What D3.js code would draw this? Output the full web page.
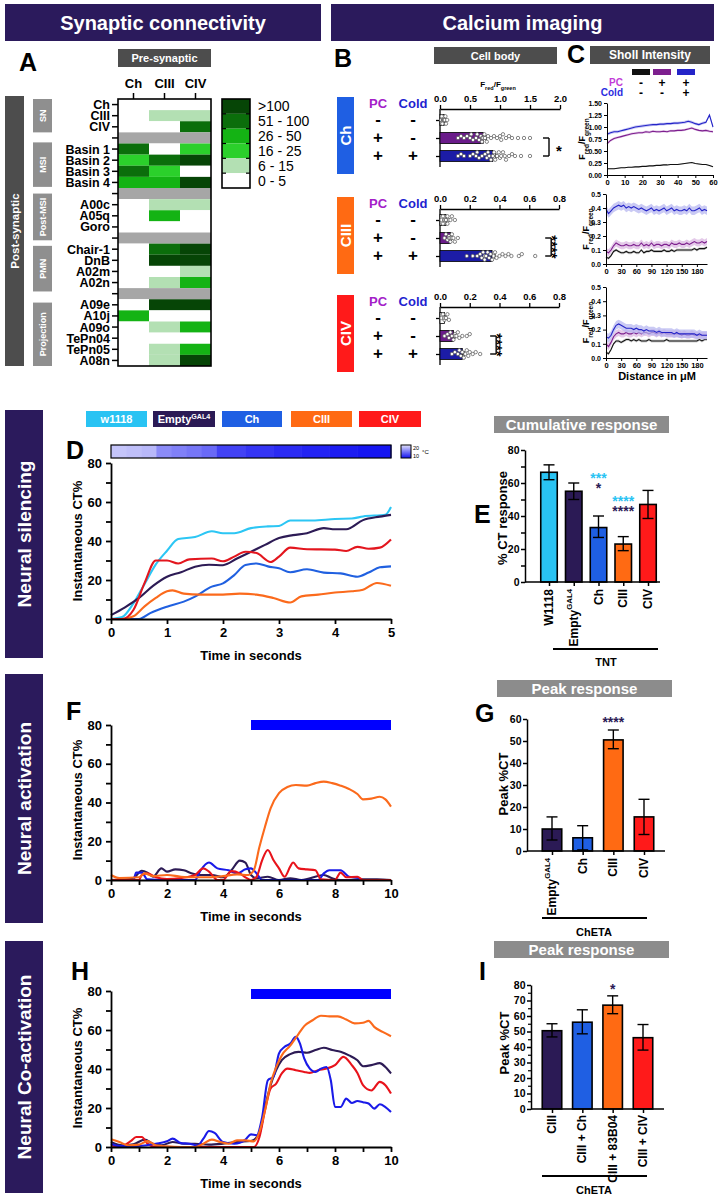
<!DOCTYPE html>
<html><head><meta charset="utf-8">
<script src="https://cdn.jsdelivr.net/npm/d3@7"></script>
<style>
body{margin:0;background:#fff;}
svg{display:block;}
text{font-family:Arial,"Liberation Sans",Helvetica,sans-serif;}
</style></head><body>
<svg id="fig" width="720" height="1200"></svg>
<script>
// ======================= DATA =======================
// ---- Panel A: connectivity heatmap ----
const heatCols = ["Ch","CIII","CIV"];
const heatRows = ["Ch","CIII","CIV","","Basin 1","Basin 2","Basin 3","Basin 4","","A00c","A05q","Goro","","Chair-1","DnB","A02m","A02n","","A09e","A10j","A09o","TePn04","TePn05","A08n"];
// bin index: 0 = "0 - 5", 1 = "6 - 15", 2 = "16 - 25", 3 = "26 - 50", 4 = "51 - 100", 5 = ">100"; null = separator row
const heatVals = [[0,0,0],[0,1,1],[0,0,4],null,[4,0,2],[2,4,5],[4,2,0],[3,3,5],null,[0,1,1],[0,3,0],[0,0,0],null,[0,4,5],[0,5,5],[0,0,1],[0,1,3],null,[0,5,5],[3,0,0],[0,1,3],[0,0,0],[0,1,3],[0,1,5]];
const heatBinLabels = [">100","51 - 100","26 - 50","16 - 25","6 - 15","0 - 5"];
const heatBinColors = ["#064506","#0b6e0b","#14b314","#2bd02b","#b3e0b3","#ffffff"];
const heatGroupNames = ["SN","MSI","Post-MSI","PMN","Projection"];
const heatGroupSpan = [[0,3],[3.9,7.9],[8.5,12.7],[13.2,17.3],[18.3,24]];

// ---- Panel B: cell body Fred/Fgreen ----
const bGroups = ["Ch","CIII","CIV"];
const bPC = ["-","+","+"];
const bCold = ["-","-","+"];
const bMaxes = [2.0, 0.8, 0.8];
const bTicksCh = [0,0.5,1.0,1.5,2.0];
const bTicksC34 = [0,0.2,0.4,0.6,0.8];
const bMeansCh = [0.07,0.72,0.88];
const bMeansCIII = [0.04,0.07,0.35];
const bMeansCIV = [0.03,0.09,0.15];
const bSemCh = [0.01,0.05,0.05];
const bSemCIII = [0.005,0.006,0.02];
const bSemCIV = [0.004,0.01,0.012];
const bDotsCh = [
 [0.02,0.03,0.04,0.05,0.05,0.06,0.07,0.07,0.08,0.09,0.1,0.12],
 [0.3,0.35,0.4,0.45,0.5,0.52,0.55,0.6,0.62,0.65,0.68,0.7,0.7,0.72,0.74,0.75,0.78,0.8,0.85,0.9,0.95,1.0,1.02,1.05,1.1,1.15,1.2,1.3,1.4,1.5],
 [0.3,0.35,0.4,0.5,0.55,0.6,0.62,0.65,0.7,0.75,0.78,0.8,0.82,0.85,0.88,0.9,0.92,0.95,0.98,1.0,1.02,1.05,1.08,1.1,1.15,1.2,1.25,1.35,1.5]];
const bDotsCIII = [
 [0.01,0.02,0.02,0.03,0.03,0.04,0.04,0.05,0.05,0.06,0.07,0.08,0.1],
 [0.03,0.04,0.05,0.06,0.06,0.07,0.07,0.08,0.08,0.09,0.1,0.12],
 [0.18,0.22,0.25,0.27,0.28,0.29,0.3,0.3,0.31,0.32,0.33,0.34,0.35,0.36,0.37,0.38,0.4,0.42,0.44,0.46,0.48,0.53,0.55,0.64]];
const bDotsCIV = [
 [0.01,0.02,0.03,0.03,0.04,0.05,0.06],
 [0.03,0.05,0.06,0.07,0.08,0.09,0.1,0.1,0.11,0.12,0.13,0.15,0.18,0.2],
 [0.08,0.1,0.12,0.13,0.14,0.15,0.16,0.17,0.18,0.19,0.2,0.22,0.24,0.27]];
const bSig = ["*","****","****"];

// ---- Panel C: Sholl intensity ----
const shollPC = ["-","+","+"];
const shollCold = ["-","-","+"];
const shollChX = [0,2,4,6,8,10,12,14,16,18,20,22,24,26,28,30,32,34,36,38,40,42,44,46,48,50,52,54,56,58,60];
const shollChBlack = [0.13,0.13,0.13,0.14,0.15,0.15,0.16,0.16,0.17,0.17,0.18,0.18,0.19,0.19,0.2,0.2,0.21,0.21,0.22,0.22,0.22,0.23,0.24,0.25,0.26,0.24,0.23,0.22,0.22,0.2,0.17];
const shollChPurple = [0.65,0.72,0.76,0.78,0.8,0.82,0.84,0.86,0.87,0.88,0.88,0.9,0.89,0.91,0.9,0.9,0.91,0.9,0.92,0.92,0.93,0.93,0.94,0.96,0.98,0.95,0.93,0.92,0.93,0.91,0.9];
const shollChBlue = [0.85,0.88,0.9,0.9,0.92,0.94,0.96,0.98,1.0,1.01,1.02,1.03,1.04,1.05,1.05,1.06,1.06,1.07,1.07,1.08,1.08,1.09,1.1,1.12,1.1,1.07,1.05,1.08,1.1,1.25,1.0];
const shollX200 = d3.range(0,201,5);
const shollCIIIBlue = [0.39,0.36,0.38,0.4,0.41,0.42,0.41,0.42,0.4,0.41,0.4,0.41,0.4,0.39,0.4,0.39,0.38,0.39,0.4,0.38,0.39,0.38,0.39,0.4,0.38,0.39,0.4,0.38,0.39,0.38,0.38,0.39,0.38,0.4,0.38,0.38,0.39,0.4,0.38,0.39,0.38];
const shollCIIIPurple = [0.09,0.08,0.1,0.13,0.15,0.14,0.13,0.13,0.14,0.13,0.13,0.14,0.13,0.13,0.15,0.13,0.14,0.13,0.15,0.13,0.14,0.14,0.13,0.14,0.14,0.13,0.15,0.14,0.14,0.15,0.14,0.14,0.15,0.14,0.15,0.16,0.15,0.15,0.16,0.15,0.16];
const shollCIIIBlack = [0.05,0.04,0.06,0.09,0.1,0.09,0.08,0.08,0.09,0.08,0.08,0.09,0.08,0.08,0.1,0.08,0.09,0.09,0.1,0.09,0.09,0.09,0.09,0.1,0.09,0.09,0.1,0.09,0.1,0.1,0.1,0.1,0.1,0.1,0.1,0.11,0.1,0.11,0.11,0.11,0.12];
const shollCIVBlue = [0.15,0.14,0.16,0.2,0.23,0.24,0.23,0.22,0.21,0.21,0.21,0.2,0.21,0.2,0.2,0.19,0.2,0.19,0.19,0.19,0.18,0.19,0.18,0.18,0.18,0.18,0.18,0.17,0.18,0.17,0.17,0.17,0.17,0.17,0.17,0.17,0.16,0.17,0.16,0.16,0.16];
const shollCIVPurple = [0.1,0.08,0.11,0.15,0.17,0.18,0.17,0.17,0.18,0.17,0.17,0.18,0.17,0.18,0.17,0.18,0.18,0.17,0.18,0.18,0.17,0.18,0.17,0.18,0.17,0.17,0.17,0.17,0.17,0.17,0.16,0.17,0.16,0.16,0.17,0.16,0.16,0.16,0.16,0.16,0.16];
const shollCIVBlack = [0.04,0.03,0.06,0.1,0.12,0.12,0.11,0.12,0.13,0.13,0.12,0.13,0.12,0.13,0.12,0.12,0.12,0.13,0.12,0.12,0.12,0.12,0.12,0.12,0.13,0.12,0.12,0.12,0.12,0.12,0.12,0.12,0.12,0.12,0.12,0.12,0.12,0.13,0.12,0.13,0.13];
const shollSem = [0.01,0.025,0.03];

// ---- Panel D: neural silencing ----
const genotypes = ["w1118","Empty","Ch","CIII","CIV"];
const tempTimes = [0,0.27,0.54,0.81,1.08,1.35,1.62,1.89,2.4,2.9,3.4,3.9,4.4,5];
const tempValues = [18.6,18.3,18.0,15.8,15.3,14.8,14.2,12.3,11.7,11.2,10.8,10.5,10.2];
const dW1118T = [0,0.2,0.4,0.6,0.8,1.0,1.2,1.5,1.8,2.0,2.2,2.5,2.8,3.0,3.2,3.6,4.0,4.3,4.5,4.9,5.0];
const dW1118V = [0,1,8,18,28,35,41,42,45,44,44,46.6,47.5,47.7,50.5,50.5,51.3,51.5,52.6,53.5,57.4];
const dEmptyT = [0,0.25,0.5,0.75,1.0,1.25,1.5,1.75,2.0,2.25,2.5,2.75,3.0,3.25,3.5,3.8,4.0,4.2,4.5,4.8,5.0];
const dEmptyV = [2,6,10.8,17,21.7,24,26.8,27.8,27.6,31,34.5,38,41.5,43,44,46.6,46,46,50.7,52.5,53.4];
const dChT = [0,0.5,0.7,1.0,1.3,1.5,1.8,2.0,2.2,2.4,2.6,2.8,3.0,3.2,3.5,3.8,4.1,4.4,4.6,4.8,5.0];
const dChV = [0,0,3,6.3,8.9,11.5,16.6,18.3,22.5,27.7,28.5,27,26,24,25.5,23.8,23.4,21.7,23.8,26.5,27];
const dCIIIT = [0,0.2,0.4,0.6,0.8,1.0,1.1,1.3,1.6,2.0,2.3,2.6,2.9,3.2,3.4,3.7,4.0,4.3,4.5,4.75,5.0];
const dCIIIV = [0,0,1.4,6.5,10.8,14.2,14.7,13,12.5,12.5,13,12.5,10.8,8.5,11.6,12.5,13.6,14.2,15,18.5,17];
const dCIVT = [0,0.2,0.4,0.6,0.8,1.0,1.2,1.4,1.8,2.0,2.2,2.4,2.6,2.85,3.0,3.2,3.5,4.0,4.2,4.4,4.6,4.8,5.0];
const dCIVV = [0,0,4.6,18.5,30,30,28.5,30.6,31,29.6,32,34.5,33.8,29.2,32,36.6,35.8,35.6,34.9,37,36,36.6,40.8];

// ---- Panel E: cumulative response ----
const eCats = ["W1118","Empty","Ch","CIII","CIV"];
const eMeans = [66.5,55,33,23,47];
const eLow = [62,50,27,19,38.5];
const eHigh = [71,60,40,27.5,55.5];

// ---- Panel F: neural activation ----
const fCIIIT = [0,0.3,1.0,1.2,1.5,2.0,2.5,3.0,3.5,4.0,4.5,4.9,5.1,5.3,5.5,5.7,6.0,6.3,6.6,7.0,7.3,7.6,7.9,8.2,8.5,8.8,9.0,9.3,9.6,9.8,10];
const fCIIIV = [2.6,1,1.4,3.4,2,2.6,1.7,1.4,1.4,2,2.9,2.6,5,17,27.5,37,44.8,48,49,48.7,50,50.8,50,48.7,47,44.4,41.6,42,43,41.6,37.9];
const fCIVT = [0,1.0,1.1,1.3,1.6,2.0,2.5,3.0,3.3,3.5,3.8,4.0,4.3,4.6,4.8,5.0,5.2,5.4,5.6,5.8,6.0,6.2,6.4,6.5,6.7,7.0,7.3,7.5,8.0,8.2,8.4,8.8,9.0,10];
const fCIVV = [0,0,2.6,3.4,1.4,0.5,1.0,2.6,6,4.3,0,0,4.6,3.4,1.4,0,1.7,10.3,15.5,10.3,6,1.7,6.9,9,6,5.5,5,0.3,0,3.8,1.4,1.7,0,0];
const fChT = [0,0.8,0.9,1.1,1.3,2.0,3.0,3.2,3.5,3.8,4.2,4.5,4.8,5.0,5.2,5.4,7.4,7.6,7.8,8.2,8.5,8.8,9.0,10];
const fChV = [0,0,3.8,3.8,0.3,0,0,5,9,6,5,3.4,5.5,6,3.4,0,0,3.4,5,5,1.7,1.2,0,0];
const fEmptyT = [0,0.6,0.8,1.1,1.3,1.5,1.8,2.0,2.3,2.6,2.9,3.2,3.6,4.0,4.3,4.6,4.8,5.0,5.2,5.6,6.0,6.4,6.8,7.6,7.9,8.2,9.0,9.5,10];
const fEmptyV = [0,0.3,0.9,4.8,3.8,1.7,6,4.3,5.5,5,3.4,2.6,2.6,1.4,5,10,9,2.6,0.9,1.7,0,0.9,0,2.6,0.9,0,0.3,0.3,0];

// ---- Panel G: peak response ----
const gCats = ["Empty","Ch","CIII","CIV"];
const gMeans = [10,6,50.5,15.5];
const gLow = [5,0.5,46.5,7.5];
const gHigh = [15.5,11.5,55,23.5];

// ---- Panel H: neural co-activation ----
const hCIIIT = [0,0.3,0.6,1.0,1.3,1.6,2.0,2.5,3.0,3.3,3.6,3.9,4.2,4.5,4.8,5.1,5.3,5.5,5.7,5.9,6.1,6.4,6.7,6.9,7.2,7.5,7.8,8.1,8.4,8.7,9.0,9.2,9.4,9.7,10];
const hCIIIV = [4,2.6,0.9,1.2,3,0.9,0.3,0,0,1.7,3.8,2.6,1.7,3.4,3.4,2.9,7.7,18.8,32.5,41,47,52,58,62,65,67.3,67,67,65.4,63.4,63.7,64.7,61.6,59,56.8];
const hEmptyT = [0,0.4,0.8,1.2,1.5,1.8,2.2,2.6,3.0,3.5,4.0,4.5,5.0,5.3,5.5,5.7,5.9,6.1,6.4,6.7,7.0,7.3,7.6,7.9,8.2,8.5,8.8,9.0,9.3,9.6,9.8,10];
const hEmptyV = [2.6,0.9,1.4,3.8,1.7,0.9,2.6,1.7,1.7,1.2,1.7,2.6,3.1,6.8,20.5,31.7,39.4,44.5,47.6,48.8,48.3,49.7,50.9,49.7,48.8,47,44.5,41.4,42,43,41,37.7];
const hCIVT = [0,0.3,0.7,0.9,1.1,1.3,1.6,5.1,5.3,5.5,5.7,5.9,6.1,6.3,6.6,6.9,7.1,7.4,7.7,8.0,8.3,8.6,8.8,9.0,9.3,9.6,9.8,10];
const hCIVV = [0.9,0,3,5.1,5.1,1.7,0,0,5,18.8,30,32.5,37.7,40.2,39.4,38.5,38,39.4,40.2,42,46.2,42,38,31.7,29,33.4,31.7,27.4];
const hChT = [0,0.3,0.8,1.2,1.6,2.0,2.2,2.5,2.8,3.1,3.3,3.5,3.7,4.0,4.4,4.8,5.0,5.2,5.4,5.6,5.8,6.0,6.2,6.4,6.6,6.75,6.9,7.1,7.3,7.5,7.7,7.85,8.0,8.2,8.4,8.6,8.8,9.0,9.2,9.4,9.6,9.8,10];
const hChV = [1.7,0.5,0.5,0.8,1.7,2.9,4.3,2,1.7,0.8,4.3,8.2,7.2,2.6,1.7,3.8,6.5,6,15.4,34.2,36,48,51.4,53,56.5,53,45.4,40.2,38.5,40.2,41,34.2,20.5,20.5,24.8,22.6,23.6,23,22.3,19.7,21.9,20.5,18];

// ---- Panel I: peak response co-activation ----
const iCats = ["CIII","CIII + Ch","CIII + 83B04","CIII + CIV"];
const iMeans = [50.5,56,67,46];
const iLow = [46.5,48.5,61.5,38];
const iHigh = [55,64,73,54.5];

// ======================= DRAWING =======================
const HDR = "#2b1a5c";
const COL = {w1118:"#29c3f3", Empty:"#2b1a55", Ch:"#1f5fe3", CIII:"#ff6a13", CIV:"#ff1a1a"};
const LINE_D = {w1118:"#2cc6f4", Empty:"#2d1b55", Ch:"#2060e0", CIII:"#fb6a1c", CIV:"#e3161e"};
const LINE_FH = {Empty:"#2d1b55", Ch:"#1a1ae8", CIII:"#fb6a1c", CIV:"#e8131b"};
const svg = d3.select("#fig");
const FONT = 'Arial,"Liberation Sans",Helvetica,sans-serif';

function txt(x,y,s,o={}) {
  const t = svg.append("text").text(s)
    .attr("font-size",o.size||12).attr("font-weight",o.weight||"bold")
    .attr("fill",o.fill||"#000").attr("text-anchor",o.anchor||"start");
  if (o.baseline) t.attr("dominant-baseline",o.baseline);
  if (o.rotate!==undefined) t.attr("transform",`translate(${x},${y}) rotate(${o.rotate})`);
  else t.attr("x",x).attr("y",y);
  return t;
}
function rect(x,y,w,h,fill,stroke,sw) {
  const r = svg.append("rect").attr("x",x).attr("y",y).attr("width",w).attr("height",h).attr("fill",fill);
  if (stroke) r.attr("stroke",stroke).attr("stroke-width",sw||1);
  return r;
}
function line(x1,y1,x2,y2,c,w) {
  return svg.append("line").attr("x1",x1).attr("y1",y1).attr("x2",x2).attr("y2",y2).attr("stroke",c||"#000").attr("stroke-width",w||1.5);
}
function labelBox(x,y,w,h,fill,s,size,rot) {
  rect(x,y,w,h,fill);
  return txt(x+w/2,y+h/2,s,{size,fill:"#fff",anchor:"middle",baseline:"central",rotate:rot?-90:undefined});
}
function drawAxis(axis,tx,ty,fs,sw) {
  const g = svg.append("g").attr("transform",`translate(${tx},${ty})`).call(axis);
  g.select(".domain").attr("stroke","#000").attr("stroke-width",sw||1.5);
  g.selectAll(".tick line").attr("stroke","#000").attr("stroke-width",sw||1.5);
  g.selectAll(".tick text").attr("font-family",FONT).attr("font-weight","bold").attr("font-size",fs).attr("fill","#000");
  return g;
}
function superText(x,y,base,sup,o) {
  const t = txt(x,y,"",o);
  t.append("tspan").text(base);
  t.append("tspan").text(sup).attr("baseline-shift","super").attr("font-size",(o.size||12)*0.65);
  return t;
}
function stackText(x,lines,o) {
  const t = svg.append("text").attr("font-size",o.size).attr("font-weight","bold").attr("text-anchor",o.anchor||"middle");
  lines.forEach(l=> t.append("tspan").attr("x",x).attr("y",l.y).attr("fill",l.fill||"#000").text(l.s));
  return t;
}

// ---------- Headers ----------
labelBox(5,4,316,37,HDR,"Synaptic connectivity",20);
labelBox(331,4,383,37,HDR,"Calcium imaging",20);

// ---------- Panel A ----------
txt(19,71,"A",{size:25});
labelBox(118,49,93,18,"#4d4d4d","Pre-synaptic",11);
const xA = d3.scaleBand().domain(heatCols).range([118,211]);
const yA = d3.scaleBand().domain(d3.range(heatRows.length)).range([99,366]);
const yRowA = d3.scaleLinear().domain([0,heatRows.length]).range([99,366]);
heatRows.forEach((r,i)=>{
  const vals = heatVals[i];
  if (vals===null) {
    rect(118,yA(i),93,yA.bandwidth(),"#a6a6a6");
  } else {
    vals.forEach((v,j)=> rect(xA(heatCols[j]),yA(i),xA.bandwidth(),yA.bandwidth(),heatBinColors[5-v]));
  }
});
rect(118,99,93,267,"none","#000",1.6);
drawAxis(d3.axisLeft(yA).tickSize(6).tickSizeOuter(0).tickFormat(""),118,0,13).select(".domain").remove();
stackText(110,heatRows.map((r,i)=>({s:r,y:yA(i)+yA.bandwidth()/2+4.5})).filter(d=>d.s),{size:12.5,anchor:"end"});
drawAxis(d3.axisTop(xA).tickSize(6).tickPadding(5).tickSizeOuter(0),0,99,13).select(".domain").remove();
// legend
const yL = d3.scaleBand().domain(heatBinLabels).range([99,188]);
heatBinLabels.forEach((l,i)=>{
  rect(222,yL(l),28,yL.bandwidth(),heatBinColors[i]);
  txt(258,yL(l)+yL.bandwidth()/2,l,{size:14,weight:"normal",baseline:"central"});
  if (i>0) { line(222,yL(l),226,yL(l),"#000",1.2); line(246,yL(l),250,yL(l),"#000",1.2); }
});
rect(222,99,28,89,"none","#000",1.6);
// group labels
labelBox(5,96,19,270,"#4d4d4d","Post-synaptic",11.5,true);
heatGroupNames.forEach((g,i)=>{
  const y0 = yRowA(heatGroupSpan[i][0]), y1 = yRowA(heatGroupSpan[i][1]);
  labelBox(33,y0,19,y1-y0,"#8f8f8f",g,9,true);
});

// ---------- Panel B ----------
txt(334,67,"B",{size:25});
labelBox(434,47,123,17,"#4d4d4d","Cell body",11);
{
  const t = txt(498,87,"",{size:8,anchor:"middle"});
  t.append("tspan").text("F");
  t.append("tspan").text("red").attr("baseline-shift","sub").attr("font-size",5.5);
  t.append("tspan").text("/F");
  t.append("tspan").text("green").attr("baseline-shift","sub").attr("font-size",5.5);
}
const bAxisY = [109,209,307];
const bMeansAll = [bMeansCh,bMeansCIII,bMeansCIV];
const bSemAll = [bSemCh,bSemCIII,bSemCIV];
const bDotsAll = [bDotsCh,bDotsCIII,bDotsCIV];
const bRowFill = ["#ffffff","#6a1b8a","#1c1ca6"];
function swarm(vals,xs,cy,r,maxOff) {
  const placed = [];
  const offs = [0];
  for (let k=1;k<=5;k++) offs.push(-k*r*1.1,k*r*1.1);
  return vals.slice().sort((a,b)=>a-b).map(v=>{
    const x = xs(v); let y = cy;
    for (const o of offs) {
      if (Math.abs(o)>maxOff) continue;
      if (placed.every(p=>(p.x-x)**2+(p.y-(cy+o))**2 >= (1.8*r)**2)) { y = cy+o; break; }
    }
    const p = {x,y}; placed.push(p); return p;
  });
}
bGroups.forEach((g,gi)=>{
  const ay = bAxisY[gi];
  labelBox(337,ay-12,17,77,COL[g],g,15,true);
  txt(378,ay-1,"PC",{size:13,fill:"#a320c8",anchor:"middle"});
  txt(413,ay-1,"Cold",{size:13,fill:"#1f1fd0",anchor:"middle"});
  const xB = d3.scaleLinear().domain([0,bMaxes[gi]]).range([440, gi===0?560:559]);
  drawAxis(d3.axisTop(xB).tickValues(gi===0?bTicksCh:bTicksC34).tickFormat(d3.format(".1f")).tickSize(4).tickSizeOuter(0),0,ay,9.5,1.3);
  const rowsY = [ay+11, ay+29, ay+47];
  const yB = d3.scaleOrdinal().domain([0,1,2]).range(rowsY);
  drawAxis(d3.axisLeft(yB).tickSize(4).tickFormat(""),440,0,9,1.3).select(".domain").remove();
  line(440,ay,440,ay+58,"#000",1.3);
  [0,1,2].forEach(ri=>{
    const cy = yB(ri);
    txt(378,cy+5,bPC[ri],{size:17,anchor:"middle"});
    txt(413,cy+5,bCold[ri],{size:17,anchor:"middle"});
    const m = bMeansAll[gi][ri];
    rect(440,cy-5.5,xB(m)-440,11,bRowFill[ri],"#000",0.8);
    const s = bSemAll[gi][ri];
    line(xB(m-s),cy,xB(m+s),cy,"#000",1);
    line(xB(m+s),cy-3,xB(m+s),cy+3,"#000",1);
    swarm(bDotsAll[gi][ri],xB,cy,1.7,5.5).forEach(p=>{
      svg.append("circle").attr("cx",p.x).attr("cy",p.y).attr("r",1.7).attr("fill","#fff").attr("stroke","#555").attr("stroke-width",0.7);
    });
  });
  const mx = d3.max(bDotsAll[gi][1].concat(bDotsAll[gi][2]));
  const bx = xB(mx)+(gi===0?19:16);
  line(bx,rowsY[1],bx,rowsY[2],"#000",1.4);
  line(bx-6,rowsY[1],bx,rowsY[1],"#000",1.4);
  line(bx-6,rowsY[2],bx,rowsY[2],"#000",1.4);
  const my = (rowsY[1]+rowsY[2])/2;
  if (bSig[gi].length===1) txt(bx+7,my+9,bSig[gi],{size:15});
  else txt(bx+7,my,bSig[gi],{size:15,anchor:"middle",rotate:90,baseline:"central"}).attr("dy","0.35em");
});

// ---------- Panel C ----------
txt(567,63,"C",{size:25});
labelBox(590,46,120,18,"#4d4d4d","Sholl Intensity",12);
const shollColors = ["#111111","#7d1f8e","#2424c8"];
const shollBand = ["#bbbbbb","#d9b3e0","#b3b3f0"];
const shollLegX = [641,662,686];
shollColors.forEach((c,i)=>{
  rect(shollLegX[i]-9,69,18,6,c);
  stackText(shollLegX[i],[{s:shollPC[i],y:87},{s:shollCold[i],y:97}],{size:12});
});
stackText(623,[{s:"PC",y:86,fill:"#c23cd8"},{s:"Cold",y:96,fill:"#2b2be0"}],{size:10,anchor:"end"});
function shollChart(xArr,series,xDom,xTicks,xRange,yDom,yTicks,yFmt,yRange,ylabX) {
  const xs = d3.scaleLinear().domain(xDom).range(xRange);
  const ys = d3.scaleLinear().domain(yDom).range(yRange);
  series.forEach((vals,si)=>{
    const sem = shollSem[si];
    const area = d3.area().x((d,i)=>xs(xArr[i])).y0((d)=>ys(d-sem)).y1(d=>ys(d+sem)).curve(d3.curveLinear);
    svg.append("path").attr("d",area(vals)).attr("fill",shollBand[si]).attr("opacity",0.7);
    const ln = d3.line().x((d,i)=>xs(xArr[i])).y(d=>ys(d));
    svg.append("path").attr("d",ln(vals)).attr("fill","none").attr("stroke",shollColors[si]).attr("stroke-width",1.1);
  });
  drawAxis(d3.axisLeft(ys).tickValues(yTicks).tickFormat(d3.format(yFmt)).tickSize(3).tickPadding(2).tickSizeOuter(0),xRange[0],0,7,1);
  drawAxis(d3.axisBottom(xs).tickValues(xTicks).tickSize(3).tickPadding(2).tickSizeOuter(0),0,yRange[0],7.5,1);
  const t = txt(ylabX,(yRange[0]+yRange[1])/2,"",{size:9,anchor:"middle",rotate:-90});
  t.append("tspan").text("F");
  t.append("tspan").text("red").attr("baseline-shift","sub").attr("font-size",6.5);
  t.append("tspan").text("/F");
  t.append("tspan").text("green").attr("baseline-shift","sub").attr("font-size",6.5);
}
shollChart(shollChX,[shollChBlack,shollChPurple,shollChBlue],[0,60],[0,10,20,30,40,50,60],[607,713],[0,1.5],[0,0.25,0.5,0.75,1,1.25,1.5],".2f",[175,103],585);
shollChart(shollX200,[shollCIIIBlack,shollCIIIPurple,shollCIIIBlue],[0,200],[0,30,60,90,120,150,180],[606,707],[0,0.5],[0,0.1,0.2,0.3,0.4,0.5],".1f",[264,194],589);
shollChart(shollX200,[shollCIVBlack,shollCIVPurple,shollCIVBlue],[0,200],[0,30,60,90,120,150,180],[606,707],[0,0.5],[0,0.1,0.2,0.3,0.4,0.5],".1f",[358,287],589);
txt(657,380,"Distance in μM",{size:11,anchor:"middle"});

// ---------- Side boxes ----------
labelBox(5,410,38,248,HDR,"Neural silencing",19,true);
labelBox(5,674,38,249,HDR,"Neural activation",19,true);
labelBox(5,941,38,252,HDR,"Neural Co-activation",19,true);

// ---------- Panel D ----------
const legX = [[86,147],[153,215],[222,282],[291,352],[359,421]];
const legFill = [COL.w1118,COL.Empty,COL.Ch,COL.CIII,COL.CIV];
genotypes.forEach((g,i)=>{
  rect(legX[i][0],411,legX[i][1]-legX[i][0],16,legFill[i]);
  const cx = (legX[i][0]+legX[i][1])/2;
  if (g==="Empty") superText(cx,423,"Empty","GAL4",{size:11,fill:"#fff",anchor:"middle"});
  else txt(cx,423,g,{size:11,fill:"#fff",anchor:"middle"});
});
txt(66,459,"D",{size:25});
const xD = d3.scaleLinear().domain([0,5]).range([111,391]);
const yD = d3.scaleLinear().domain([0,80]).range([619,463]);
const tempColor = d3.scaleLinear().domain([10,20]).range(["#1212f2","#e2e2fb"]);
tempValues.forEach((v,i)=>{
  rect(xD(tempTimes[i]),445,xD(tempTimes[i+1])-xD(tempTimes[i])+0.5,13,tempColor(v));
});
rect(xD(0),445,xD(5)-xD(0),13,"none","#000",1.2);
{
  const defs = svg.append("defs");
  const lg = defs.append("linearGradient").attr("id","tg").attr("x1",0).attr("y1",0).attr("x2",0).attr("y2",1);
  lg.append("stop").attr("offset","0").attr("stop-color",tempColor(20));
  lg.append("stop").attr("offset","1").attr("stop-color",tempColor(10));
  rect(401,445,10,13,"url(#tg)","#000",1);
  const t = svg.append("text").attr("font-size",5.5).attr("font-weight","normal");
  t.append("tspan").attr("x",413).attr("y",450).text("20");
  t.append("tspan").attr("x",413).attr("y",458).text("10");
  txt(422,454,"°C",{size:6,weight:"normal"});
}
function timeChart(xs,ys,xTicks,xMinor,seriesT,seriesV,colors,xTitleY,ylabY) {
  const ln = d3.line().x(d=>xs(d[0])).y(d=>ys(d[1])).curve(d3.curveMonotoneX);
  seriesT.forEach((T,i)=>{
    const pts = T.map((t,j)=>[t,seriesV[i][j]]);
    svg.append("path").attr("d",ln(pts)).attr("fill","none").attr("stroke",colors[i]).attr("stroke-width",2.1).attr("stroke-linejoin","round");
  });
  drawAxis(d3.axisLeft(ys).tickValues([0,20,40,60,80]).tickSize(5).tickPadding(4).tickSizeOuter(0),xs.range()[0],0,13,1.8);
  drawAxis(d3.axisLeft(ys).tickValues([10,30,50,70]).tickSize(5).tickFormat(""),xs.range()[0],0,13,1.8).select(".domain").remove();
  drawAxis(d3.axisBottom(xs).tickValues(xTicks).tickFormat(d3.format("d")).tickSize(5).tickPadding(4).tickSizeOuter(0),0,ys.range()[0],13,1.8);
  if (xMinor.length) drawAxis(d3.axisBottom(xs).tickValues(xMinor).tickSize(5).tickFormat(""),0,ys.range()[0],13,1.8).select(".domain").remove();
  txt((xs.range()[0]+xs.range()[1])/2,xTitleY,"Time in seconds",{size:13,anchor:"middle"});
  txt(82,ylabY,"Instantaneous CT%",{size:13,anchor:"middle",rotate:-90});
}
timeChart(xD,yD,[0,1,2,3,4,5],[],
  [dW1118T,dEmptyT,dChT,dCIIIT,dCIVT],[dW1118V,dEmptyV,dChV,dCIIIV,dCIVV],
  [LINE_D.w1118,LINE_D.Empty,LINE_D.Ch,LINE_D.CIII,LINE_D.CIV],660,541);

// ---------- Bar helper ----------
function drawBars(xs,ys,cats,means,low,high,colors,barW) {
  cats.forEach((c,i)=>{
    const cx = xs(c);
    rect(cx-barW/2,ys(means[i]),barW,ys(0)-ys(means[i]),colors[i],"#000",1.6);
    line(cx,ys(low[i]),cx,ys(high[i]),"#000",1.4);
    line(cx-5.5,ys(low[i]),cx+5.5,ys(low[i]),"#000",1.4);
    line(cx-5.5,ys(high[i]),cx+5.5,ys(high[i]),"#000",1.4);
  });
}

// ---------- Panel E ----------
labelBox(494,416,175,17,"#8c8c8c","Cumulative response",15);
txt(474,523,"E",{size:25});
{
  const xs = d3.scalePoint().domain(eCats).range([549,648]);
  const ys = d3.scaleLinear().domain([0,80]).range([582,450]);
  drawBars(xs,ys,eCats,eMeans,eLow,eHigh,[COL.w1118,COL.Empty,COL.Ch,COL.CIII,COL.CIV],16.5);
  drawAxis(d3.axisLeft(ys).tickValues([0,20,40,60,80]).tickSize(4).tickPadding(1.5).tickSizeOuter(0),525,0,10.5,1.5);
  drawAxis(d3.axisLeft(ys).tickValues([10,30,50,70]).tickSize(4).tickFormat(""),525,0,10,1.5).select(".domain").remove();
  line(525,582,660,582,"#000",1.5);
  drawAxis(d3.axisBottom(xs).tickSize(4).tickFormat(""),0,582,11,1.5).select(".domain").remove();
  eCats.forEach(c=>{
    if (c==="Empty") superText(xs(c),589,"Empty","GAL4",{size:12,anchor:"end",rotate:-90,baseline:"central"});
    else txt(xs(c),589,c,{size:12,anchor:"end",rotate:-90,baseline:"central"});
  });
  stackText(xs("Ch"),[{s:"***",y:483,fill:COL.w1118},{s:"*",y:493,fill:COL.Empty}],{size:14});
  stackText(xs("CIII"),[{s:"****",y:506,fill:COL.w1118},{s:"****",y:516,fill:COL.Empty}],{size:14});
  txt(507,518,"% CT response",{size:13,anchor:"middle",rotate:-90});
  line(553,649,658,649,"#000",2);
  txt(606,666,"TNT",{size:11,anchor:"middle"});
}

// ---------- Panel F ----------
txt(66,720,"F",{size:25});
const xF = d3.scaleLinear().domain([0,10]).range([111,391]);
const yF = d3.scaleLinear().domain([0,80]).range([880,725]);
rect(xF(5),720,xF(10)-xF(5),10,"#0000ff");
timeChart(xF,yF,[0,2,4,6,8,10],[1,3,5,7,9],
  [fEmptyT,fChT,fCIVT,fCIIIT],[fEmptyV,fChV,fCIVV,fCIIIV],
  [LINE_FH.Empty,LINE_FH.Ch,LINE_FH.CIV,LINE_FH.CIII],921,800);

// ---------- Panel G ----------
labelBox(497,680,175,17,"#8c8c8c","Peak response",15);
txt(475,722,"G",{size:25});
{
  const xs = d3.scalePoint().domain(gCats).range([552,644]);
  const ys = d3.scaleLinear().domain([0,60]).range([851,719]);
  drawBars(xs,ys,gCats,gMeans,gLow,gHigh,[COL.Empty,COL.Ch,COL.CIII,COL.CIV],19.5);
  drawAxis(d3.axisLeft(ys).tickValues([0,10,20,30,40,50,60]).tickSize(4).tickPadding(1.5).tickSizeOuter(0),527,0,10.5,1.5);
  line(527,851,665,851,"#000",1.5);
  drawAxis(d3.axisBottom(xs).tickSize(4).tickFormat(""),0,851,11,1.5).select(".domain").remove();
  gCats.forEach(c=>{
    if (c==="Empty") superText(xs(c),858,"Empty","GAL4",{size:12,anchor:"end",rotate:-90,baseline:"central"});
    else txt(xs(c),858,c,{size:12,anchor:"end",rotate:-90,baseline:"central"});
  });
  txt(xs("CIII"),727,"****",{size:14,fill:COL.Empty,anchor:"middle"});
  txt(508,784,"Peak %CT",{size:13,anchor:"middle",rotate:-90});
  line(542,918,647,918,"#000",2);
  txt(594,936,"ChETA",{size:11,anchor:"middle"});
}

// ---------- Panel H ----------
txt(71,980,"H",{size:25});
const xH = d3.scaleLinear().domain([0,10]).range([111,391]);
const yH = d3.scaleLinear().domain([0,80]).range([1147,991]);
rect(xH(5),989,xH(10)-xH(5),10,"#0000ff");
timeChart(xH,yH,[0,2,4,6,8,10],[1,3,5,7,9],
  [hEmptyT,hCIVT,hChT,hCIIIT],[hEmptyV,hCIVV,hChV,hCIIIV],
  [LINE_FH.Empty,LINE_FH.CIV,LINE_FH.Ch,LINE_FH.CIII],1188,1068);

// ---------- Panel I ----------
labelBox(494,941,175,17,"#8c8c8c","Peak response",15);
txt(479,980,"I",{size:25});
{
  const xs = d3.scalePoint().domain(iCats).range([552,643]);
  const ys = d3.scaleLinear().domain([0,80]).range([1109,985]);
  drawBars(xs,ys,iCats,iMeans,iLow,iHigh,[COL.Empty,COL.Ch,COL.CIII,COL.CIV],19.5);
  drawAxis(d3.axisLeft(ys).tickValues(d3.range(0,81,10)).tickSize(4).tickPadding(1.5).tickSizeOuter(0),531,0,10.5,1.5);
  drawAxis(d3.axisLeft(ys).tickValues(d3.range(5,80,10)).tickSize(3).tickFormat(""),531,0,10,1.2).select(".domain").remove();
  line(531,1109,664,1109,"#000",1.5);
  drawAxis(d3.axisBottom(xs).tickSize(4).tickFormat(""),0,1109,11,1.5).select(".domain").remove();
  iCats.forEach(c=> txt(xs(c),1115,c,{size:12,anchor:"end",rotate:-90,baseline:"central"}));
  txt(xs("CIII + 83B04"),994,"*",{size:14,fill:COL.Empty,anchor:"middle"});
  txt(509,1043,"Peak %CT",{size:13,anchor:"middle",rotate:-90});
  line(542,1176,647,1176,"#000",2);
  txt(594,1194,"ChETA",{size:11,anchor:"middle"});
}
</script>
</body></html>
